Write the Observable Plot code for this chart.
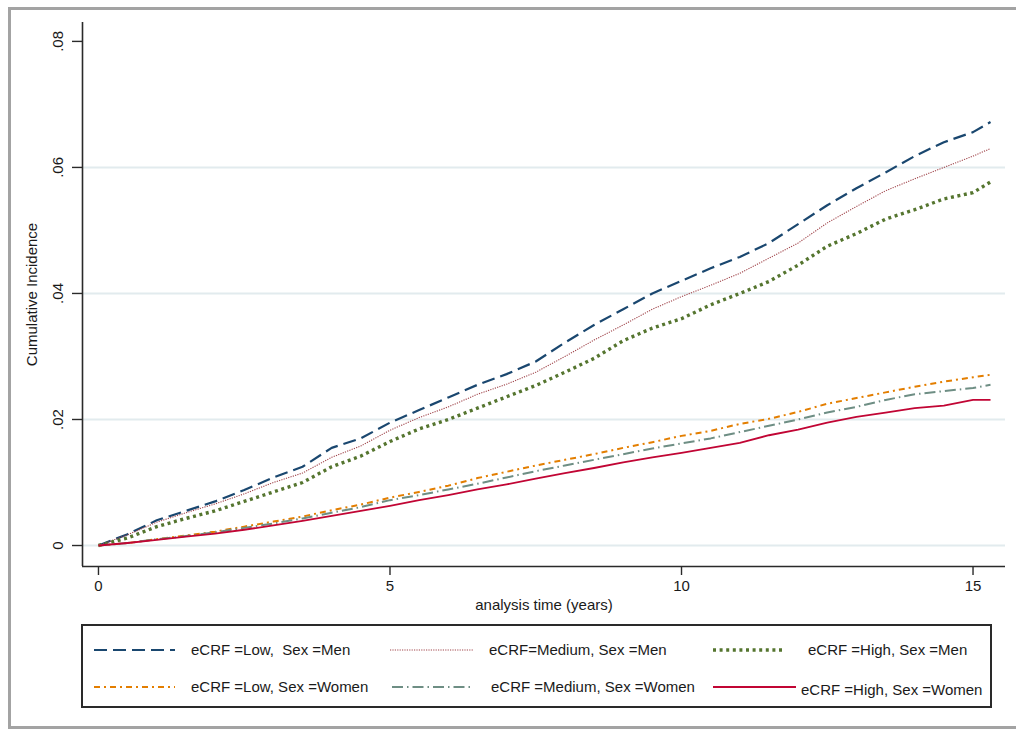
<!DOCTYPE html>
<html>
<head>
<meta charset="utf-8">
<script src="https://cdn.jsdelivr.net/npm/d3@7"></script>
<script src="https://cdn.jsdelivr.net/npm/@observablehq/plot@0.6"></script>
<style>
  html, body { margin: 0; padding: 0; background: #fff; }
  body { width: 1016px; height: 734px; position: relative; overflow: hidden; font-family: Arial, "Liberation Sans", sans-serif; }
  #frame { position: absolute; left: 8px; top: 7px; width: 1100px; height: 722px; border: 3px solid #a3a3a3; box-sizing: border-box; }
  #chart { position: absolute; left: 0; top: 0; }
  #legend { position: absolute; left: 81px; top: 624px; width: 911px; height: 84px; border: 2px solid #2a2a2a; box-sizing: border-box; background: #fff; }
  .item { position: absolute; height: 20px; }
  .item svg { position: absolute; top: 0; }
  .item span { position: absolute; top: 0; font-size: 15px; line-height: 20px; color: #1a1a1a; white-space: pre; }
</style>
</head>
<body>
<div id="frame"></div>
<div id="chart"></div>
<div id="legend"></div>
<script>
// ---- data ----
const times = [0,0.5,1,1.5,2,2.5,3,3.5,4,4.5,5,5.5,6,6.5,7,7.5,8,8.5,9,9.5,10,10.5,11,11.5,12,12.5,13,13.5,14,14.5,15,15.3];
const lowMen    = [0,0.0018,0.0040,0.0055,0.0070,0.0088,0.0108,0.0125,0.0155,0.0170,0.0195,0.0215,0.0235,0.0255,0.0272,0.0292,0.0322,0.0350,0.0375,0.0400,0.0420,0.0440,0.0458,0.0480,0.0510,0.0540,0.0567,0.0592,0.0618,0.0640,0.0656,0.0672];
const mediumMen = [0,0.0017,0.0037,0.0052,0.0066,0.0082,0.0100,0.0115,0.0140,0.0158,0.0183,0.0203,0.0220,0.0240,0.0256,0.0275,0.0300,0.0326,0.0350,0.0375,0.0395,0.0413,0.0432,0.0456,0.0480,0.0512,0.0538,0.0563,0.0582,0.0600,0.0618,0.0630];
const highMen   = [0,0.0012,0.0030,0.0043,0.0055,0.0070,0.0085,0.0100,0.0125,0.0142,0.0165,0.0185,0.0200,0.0218,0.0236,0.0254,0.0275,0.0297,0.0325,0.0345,0.0360,0.0382,0.0400,0.0419,0.0445,0.0475,0.0495,0.0518,0.0533,0.0550,0.0560,0.0577];
const lowWomen    = [0,0.0004,0.0010,0.0016,0.0022,0.0030,0.0038,0.0046,0.0056,0.0065,0.0076,0.0085,0.0095,0.0107,0.0117,0.0127,0.0136,0.0145,0.0155,0.0164,0.0174,0.0182,0.0193,0.0201,0.0212,0.0225,0.0234,0.0243,0.0252,0.0260,0.0267,0.0271];
const mediumWomen = [0,0.0004,0.0010,0.0015,0.0021,0.0028,0.0035,0.0043,0.0052,0.0061,0.0072,0.0080,0.0089,0.0098,0.0108,0.0118,0.0127,0.0136,0.0145,0.0154,0.0162,0.0170,0.0180,0.0190,0.0200,0.0211,0.0220,0.0231,0.0240,0.0245,0.0250,0.0255];
const highWomen   = [0,0.0004,0.0009,0.0014,0.0019,0.0025,0.0032,0.0039,0.0047,0.0055,0.0063,0.0072,0.0080,0.0089,0.0097,0.0106,0.0115,0.0123,0.0132,0.0140,0.0147,0.0155,0.0163,0.0175,0.0184,0.0195,0.0204,0.0211,0.0218,0.0222,0.0231,0.0231];

const seriesLabels = ["eCRF =Low,  Sex =Men", "eCRF=Medium, Sex =Men", "eCRF =High, Sex =Men",
                      "eCRF =Low, Sex =Women", "eCRF =Medium, Sex =Women", "eCRF =High, Sex =Women"];
const seriesValues = [lowMen, mediumMen, highMen, lowWomen, mediumWomen, highWomen];
const xTicks = [0, 5, 10, 15];
const yTicks = [0, 0.02, 0.04, 0.06, 0.08];
const yGrid = [0, 0.02, 0.04, 0.06];

// ---- styles ----
const seriesStyles = [
  {stroke: "#1a476f", width: 2.2, dash: "13,6"},
  {stroke: "#a0454b", width: 1.1, dash: "1.2,1.2"},
  {stroke: "#55752f", width: 3.4, dash: "3,3.6"},
  {stroke: "#e37e00", width: 2, dash: "6,4,2,4"},
  {stroke: "#6e8e84", width: 2, dash: "11,4,1.5,4"},
  {stroke: "#c10534", width: 1.8, dash: null}
];
const xDomain = [-0.274, 15.557];
const yDomain = [-0.00333, 0.0830];

const rows = [];
seriesLabels.forEach((s, i) => times.forEach((t, j) => rows.push({series: s, time: t, value: seriesValues[i][j]})));

const fmt = d => d === 0 ? "0" : d3.format(".2f")(d).replace(/^0/, "");

const lines = seriesLabels.map((s, i) => Plot.line(rows.filter(r => r.series === s), {
  x: "time", y: "value",
  stroke: seriesStyles[i].stroke,
  strokeWidth: seriesStyles[i].width,
  strokeDasharray: seriesStyles[i].dash || undefined,
  strokeLinecap: "butt"
}));

const chart = Plot.plot({
  width: 1016, height: 615,
  marginLeft: 82, marginRight: 11, marginTop: 22, marginBottom: 49,
  style: {fontFamily: 'Arial, "Liberation Sans", sans-serif', fontSize: "15px", color: "#1a1a1a", background: "transparent"},
  x: {domain: xDomain},
  y: {domain: yDomain},
  marks: [
    Plot.gridY(yGrid, {stroke: "#e2ebee", strokeOpacity: 1, strokeWidth: 2}),
    ...lines,
    Plot.ruleX([xDomain[0]], {stroke: "#2a2a2a", strokeWidth: 1.6}),
    Plot.ruleY([yDomain[0]], {stroke: "#2a2a2a", strokeWidth: 1.6}),
    Plot.axisX({ticks: xTicks, tickSize: 9, tickPadding: 5, fontSize: 15, stroke: "#2a2a2a", strokeWidth: 1.4,
      label: "analysis time (years)", labelAnchor: "center", labelOffset: 43, labelArrow: "none"}),
    Plot.axisY({ticks: yTicks, tickSize: 10, tickPadding: 10, tickRotate: -90, tickFormat: fmt, fontSize: 15, stroke: "#2a2a2a", strokeWidth: 1.4,
      label: "Cumulative Incidence", labelAnchor: "center", labelOffset: 56, labelArrow: "none"})
  ]
});
document.getElementById("chart").appendChild(chart);

// ---- legend ----
const legendPos = [
  {sx: 11, sw: 81, tx: 108, y: 24, ly: 24},
  {sx: 307, sw: 84, tx: 406, y: 24, ly: 24},
  {sx: 630, sw: 72, tx: 725, y: 24, ly: 24},
  {sx: 11, sw: 81, tx: 108, y: 61, ly: 61},
  {sx: 309, sw: 78, tx: 408, y: 61, ly: 61},
  {sx: 630, sw: 83, tx: 718, y: 64, ly: 61}
];
const legend = document.getElementById("legend");
seriesLabels.forEach((s, i) => {
  const st = seriesStyles[i], p = legendPos[i];
  const item = document.createElement("div");
  item.className = "item";
  item.style.left = "0px";
  item.style.top = (p.y - 10) + "px";
  const svg = d3.create("svg").attr("width", p.sw).attr("height", 20)
    .style("left", p.sx + "px").style("top", (p.ly - p.y) + "px");
  svg.append("line").attr("x1", 0).attr("x2", p.sw).attr("y1", 10).attr("y2", 10)
    .attr("stroke", st.stroke).attr("stroke-width", st.width)
    .attr("stroke-dasharray", st.dash);
  item.appendChild(svg.node());
  const span = document.createElement("span");
  span.style.left = p.tx + "px";
  span.textContent = s;
  item.appendChild(span);
  legend.appendChild(item);
});
</script>
</body>
</html>
